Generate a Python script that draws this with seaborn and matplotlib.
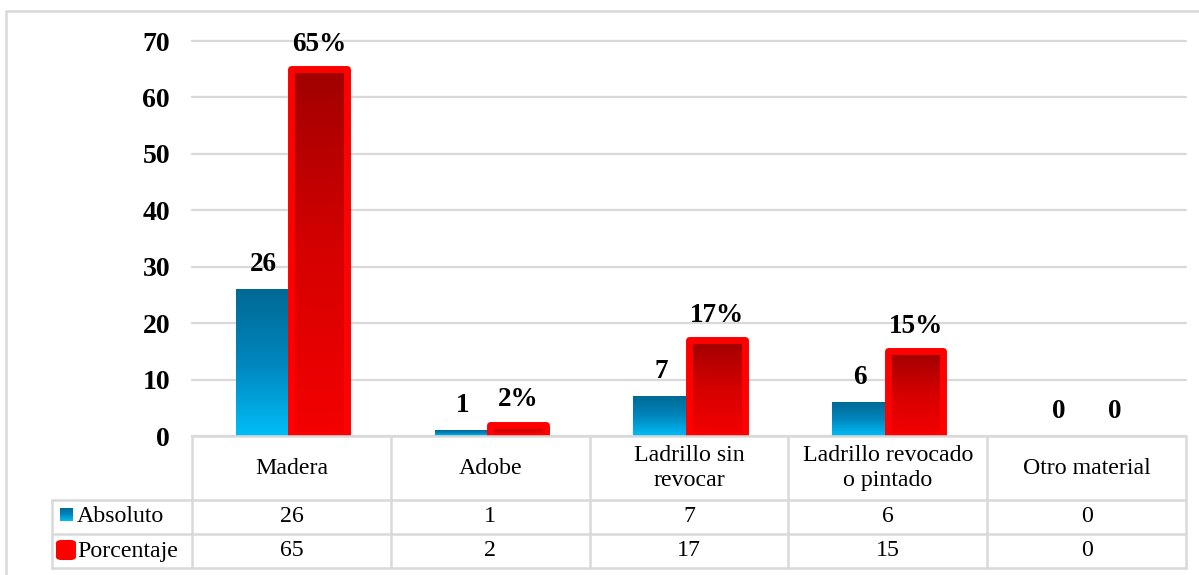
import numpy as np
import pandas as pd
import matplotlib
matplotlib.use("Agg")
import matplotlib.pyplot as plt
import seaborn as sns
from matplotlib.colors import LinearSegmentedColormap
from matplotlib.transforms import blended_transform_factory
from matplotlib.patches import Rectangle, FancyBboxPatch
from matplotlib.lines import Line2D

# --- data -------------------------------------------------------------
materiales = ["Madera", "Adobe", "Ladrillo sin\nrevocar",
              "Ladrillo revocado\no pintado", "Otro material"]
absoluto = [26, 1, 7, 6, 0]
porcentaje = [65, 2, 17, 15, 0]
series = ["Absoluto", "Porcentaje"]
yticks = [0, 10, 20, 30, 40, 50, 60, 70]

# --- styling ------------------------------------------------------------
sns.set_style("white")
plt.rcParams["font.family"] = ["Liberation Serif", "DejaVu Serif"]
plt.rcParams["text.color"] = "black"
plt.rcParams["ytick.color"] = "black"
plt.rcParams["ytick.labelcolor"] = "black"

W, H = 1199, 575
GRID = "#d9d9d9"
blue_cmap = LinearSegmentedColormap.from_list("azul", ["#00bdf8", "#0086bd", "#006a94"])
red_cmap = LinearSegmentedColormap.from_list("rojo", ["#f40000", "#d60000", "#a00000"])

TICK_FS = 20
LABEL_FS = 19.5
TABLE_FS = 17.2


def fx(px):
    return px / W


def fy(py):
    return 1 - py / H


fig = plt.figure(figsize=(W / 100, H / 100), dpi=100)
ax = fig.add_axes([fx(192), fy(436), fx(1186) - fx(192), fy(41) - fy(436)])

df = pd.DataFrame({
    "material": materiales * 2,
    "valor": absoluto + porcentaje,
    "serie": [series[0]] * len(materiales) + [series[1]] * len(materiales),
})
sns.barplot(data=df, x="material", y="valor", hue="serie",
            palette=["#0090c8", "#e00000"], saturation=1, width=0.56,
            ax=ax, legend=False, zorder=2)

grad = np.linspace(0, 1, 256).reshape(-1, 1)
px_per_pt = 100 / 72.0

# blue series: vertical gradient, no outline
for bar, val in zip(ax.containers[0], absoluto):
    x0, w, h = bar.get_x(), bar.get_width(), bar.get_height()
    bar.set_visible(False)
    if h > 0:
        ax.imshow(grad, extent=[x0, x0 + w, 0, h], origin="lower",
                  cmap=blue_cmap, aspect="auto", zorder=2, interpolation="bilinear")
    ax.annotate(f"{val}", (x0 + w / 2, h), xytext=(0, 25 / px_per_pt),
                textcoords="offset points", ha="center", va="center",
                fontsize=LABEL_FS, fontweight="bold", color="black")

# red series: darker gradient fill with a thick bright-red rounded outline
for bar, val in zip(ax.containers[1], porcentaje):
    x0, w, h = bar.get_x(), bar.get_width(), bar.get_height()
    if h > 0:
        ax.imshow(grad, extent=[x0, x0 + w, 0, h], origin="lower",
                  cmap=red_cmap, aspect="auto", zorder=2, interpolation="bilinear")
        bar.set_facecolor("none")
        bar.set_edgecolor("#ff0000")
        bar.set_linewidth(5)
        bar.set_joinstyle("round")
        bar.set_zorder(3)
    else:
        bar.set_visible(False)
    lbl = f"{val}%" if val else "0"
    ax.annotate(lbl, (x0 + w / 2, h), xytext=(0, 25 / px_per_pt),
                textcoords="offset points", ha="center", va="center",
                fontsize=LABEL_FS, fontweight="bold", color="black")

ax.set_xlim(-0.5, len(materiales) - 0.5)
ax.set_ylim(0, 70)
ax.set_yticks(yticks)
ax.set_yticklabels([str(t) for t in yticks], fontsize=TICK_FS,
                   fontweight="bold", color="black")
ax.tick_params(axis="y", length=0, pad=22 / px_per_pt)
ax.set_xticks(range(len(materiales)))
ax.set_xticklabels([])
ax.tick_params(axis="x", length=0)
ax.set_xlabel("")
ax.set_ylabel("")
ax.yaxis.grid(True, color=GRID, linewidth=1.6)
ax.set_axisbelow(True)
for gl in ax.get_ygridlines():
    gl.set_clip_on(False)
for s in ax.spines.values():
    s.set_visible(False)

# --- data table beneath the plot -------------------------------------------
tb = blended_transform_factory(ax.transData, fig.transFigure)
tf = fig.transFigure
lw_tab = 1.8

# horizontal rules
fig.add_artist(Line2D([fx(192), fx(1186)], [fy(436), fy(436)], transform=tf,
                      color=GRID, lw=lw_tab, zorder=5))
for yy in (500, 534, 568):
    fig.add_artist(Line2D([fx(52), fx(1186)], [fy(yy), fy(yy)], transform=tf,
                          color=GRID, lw=lw_tab))
# vertical rules on category boundaries
for b in np.arange(len(materiales) + 1) - 0.5:
    fig.add_artist(Line2D([b, b], [fy(436), fy(568)], transform=tb,
                          color=GRID, lw=lw_tab))
fig.add_artist(Line2D([fx(52), fx(52)], [fy(500), fy(568)], transform=tf,
                      color=GRID, lw=lw_tab))

for i, name in enumerate(materiales):
    fig.text(i, fy(468), name, transform=tb, ha="center", va="center",
             fontsize=TABLE_FS, linespacing=1.25, color="black")
    fig.text(i, fy(517), str(absoluto[i]), transform=tb, ha="center",
             va="center", fontsize=TABLE_FS, color="black")
    fig.text(i, fy(551), str(porcentaje[i]), transform=tb, ha="center",
             va="center", fontsize=TABLE_FS, color="black")

# legend keys inside the table
key_ax = fig.add_axes([fx(60), fy(521), fx(73) - fx(60), fy(508) - fy(521)])
key_ax.imshow(grad, origin="lower", cmap=blue_cmap, aspect="auto",
              extent=[0, 1, 0, 1])
key_ax.set_axis_off()
fig.add_artist(FancyBboxPatch((fx(57), fy(559)), fx(75) - fx(57), fy(541) - fy(559),
                              boxstyle="round,pad=0,rounding_size=0.004",
                              transform=tf, facecolor="#ff0000",
                              edgecolor="#ff0000", lw=1.5))
fig.text(fx(77), fy(517), series[0], ha="left", va="center",
         fontsize=TABLE_FS, color="black")
fig.text(fx(77), fy(551), series[1], ha="left", va="center",
         fontsize=TABLE_FS, color="black")

# outer chart frame
fig.add_artist(Rectangle((fx(6), fy(585)), fx(1210) - fx(6), fy(11) - fy(585),
                         transform=tf, fill=False, edgecolor=GRID, lw=1.8))

fig.savefig("out.png", dpi=100)
